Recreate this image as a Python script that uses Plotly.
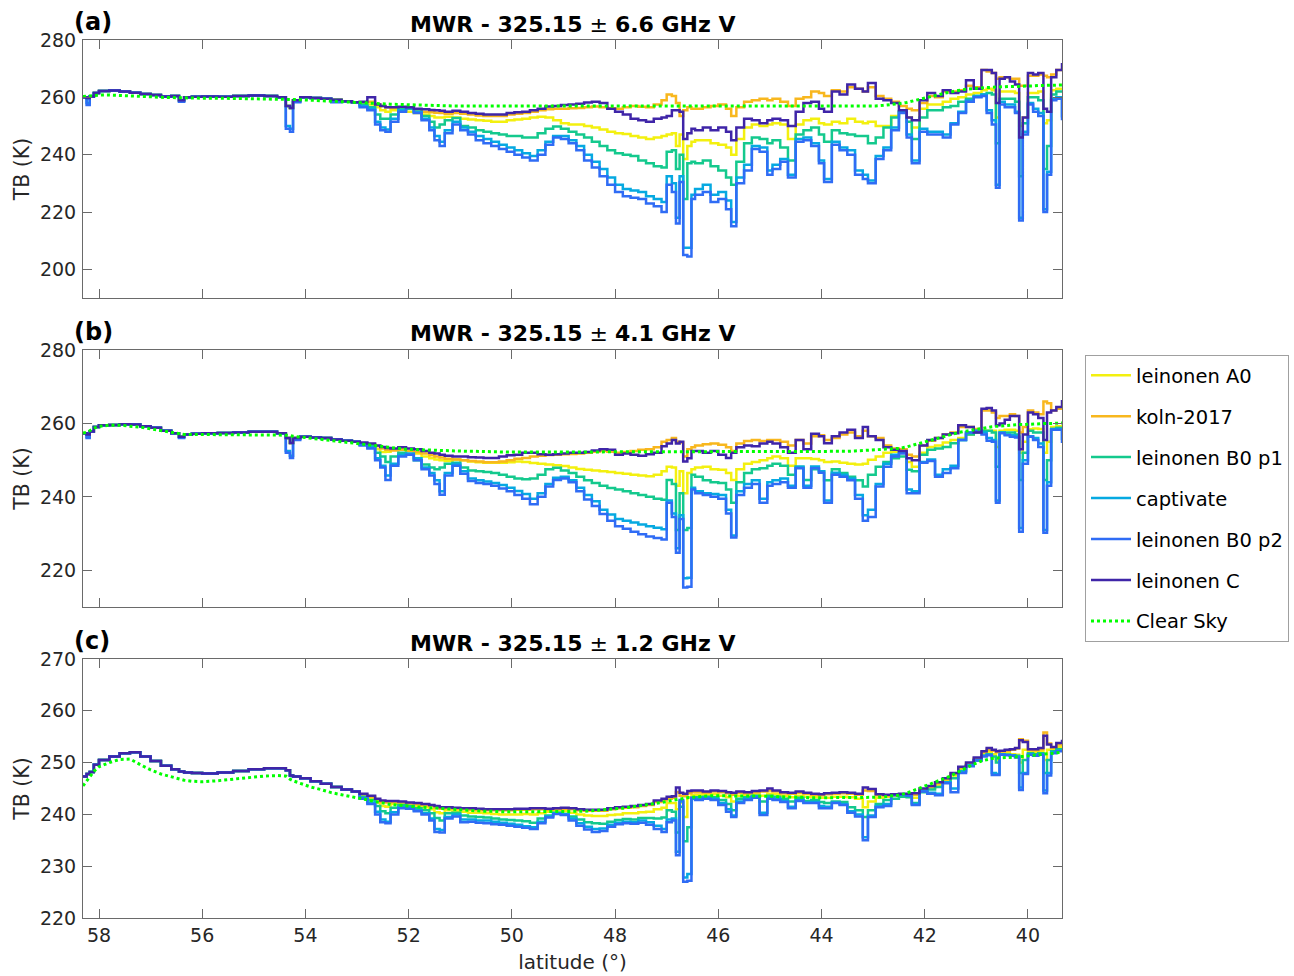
import plotly.graph_objects as go

# ---------------- data ----------------
lat = [
    58.31, 58.24, 58.18, 58.10, 58.00, 57.80, 57.60, 57.40, 57.20, 57.00,
    56.80, 56.60, 56.45, 56.35, 56.20, 56.00, 55.70, 55.40, 55.10, 54.80,
    54.55, 54.38, 54.30, 54.24, 54.10, 53.90, 53.70, 53.50, 53.30, 53.10,
    52.95, 52.80, 52.65, 52.55, 52.45, 52.35, 52.20, 52.05, 51.90, 51.75,
    51.60, 51.50, 51.40, 51.30, 51.15, 51.00, 50.85, 50.70, 50.55, 50.40,
    50.25, 50.10, 49.95, 49.80, 49.65, 49.50, 49.35, 49.20, 49.05, 48.90,
    48.75, 48.60, 48.45, 48.30, 48.15, 48.00, 47.85, 47.70, 47.55, 47.40,
    47.25, 47.10, 47.00, 46.90, 46.82, 46.75, 46.68, 46.60, 46.52, 46.45,
    46.30, 46.15, 46.00, 45.85, 45.75, 45.65, 45.50, 45.35, 45.20, 45.05,
    44.95, 44.80, 44.65, 44.50, 44.35, 44.20, 44.05, 43.95, 43.80, 43.65,
    43.50, 43.35, 43.20, 43.10, 42.95, 42.80, 42.65, 42.50, 42.35, 42.25,
    42.10, 41.95, 41.80, 41.65, 41.50, 41.35, 41.20, 41.05, 40.90, 40.80,
    40.70, 40.62, 40.55, 40.45, 40.35, 40.25, 40.17, 40.10, 40.00, 39.90,
    39.80, 39.70, 39.63, 39.55, 39.45, 39.34]

series_names = ["leinonen A0", "koln-2017", "leinonen B0 p1", "captivate",
                "leinonen B0 p2", "leinonen C", "Clear Sky"]

# ---- panel (a): 325.15 +- 6.6 GHz ----
a_north_top = [
    260.0, 259.8, 260.3, 261.5, 262.2, 262.4, 262.0, 261.6, 261.2, 260.8,
    260.3, 260.5, 259.0, 260.0, 260.2, 260.3, 260.2, 260.5, 260.6, 260.5,
    260.0, 257.0, 256.3, 259.0, 260.0, 259.8, 259.5, 259.2, 258.6, 258.3]
a_north_cap = [
    260.0, 258.0, 260.3, 261.5, 262.2, 262.4, 262.0, 261.6, 261.2, 260.8,
    260.3, 260.5, 258.7, 260.0, 260.2, 260.3, 260.2, 260.5, 260.6, 260.5,
    260.0, 250.0, 249.0, 258.5, 260.0, 259.8, 259.5, 258.5, 258.6, 258.3]
a_north_p2 = [
    260.0, 257.3, 260.3, 261.5, 262.2, 262.4, 262.0, 261.6, 261.2, 260.8,
    260.3, 260.5, 258.5, 260.0, 260.2, 260.3, 260.2, 260.5, 260.6, 260.5,
    260.0, 249.0, 248.0, 258.3, 260.0, 259.8, 259.5, 258.3, 258.6, 258.3]
a_A0_south = [
    258.0, 257.5, 256.5, 255.5, 255.0, 255.5, 255.5, 255.0, 254.5, 254.0,
    253.5, 253.0, 253.0, 253.2, 253.0, 252.5, 252.3, 252.0, 251.8, 251.5,
    251.5, 252.0, 252.3, 252.5, 253.0, 253.2, 253.0, 252.0, 251.0, 250.5,
    250.5, 250.0, 249.5, 248.8, 248.0, 247.5, 247.2, 246.5, 246.0, 245.5,
    246.0, 246.5, 247.0, 247.5, 243.0, 247.0, 238.5, 243.0, 244.5, 245.0,
    245.0, 244.0, 243.5, 242.5, 240.0, 245.5, 249.5, 250.5, 250.0, 250.5,
    251.0, 250.5, 245.5, 250.5, 252.0, 252.5, 251.0, 250.5, 251.5, 251.0,
    252.5, 251.5, 251.0, 251.5, 250.0, 250.0, 253.5, 255.0, 253.0, 249.5,
    256.0, 257.5, 257.5, 258.5, 259.5, 260.0, 261.0, 261.5, 262.5, 263.0,
    262.5, 253.0, 262.0, 262.0, 262.0, 261.5, 250.0, 253.0, 261.5, 261.5,
    262.0, 251.0, 252.0, 262.5, 263.0, 263.0]
a_koln_south = [
    258.0, 258.5, 257.5, 257.0, 256.5, 256.3, 256.5, 256.0, 255.5, 255.0,
    254.8, 254.6, 254.5, 254.3, 254.5, 254.3, 254.0, 253.7, 253.5, 253.5,
    253.5, 254.0, 254.3, 254.5, 255.0, 255.5, 255.8, 256.0, 256.0, 256.2,
    256.3, 256.5, 256.8, 256.5, 256.2, 256.0, 256.5, 257.0, 256.7, 256.5,
    257.5, 259.0, 261.0, 260.5, 258.0, 253.5, 255.5, 256.5, 256.0, 256.0,
    256.5, 257.0, 257.5, 256.0, 253.5, 256.5, 258.5, 259.0, 259.5, 259.0,
    259.5, 258.5, 257.0, 259.5, 260.0, 262.0, 261.5, 260.5, 262.5, 262.0,
    263.5, 263.0, 262.0, 263.5, 260.5, 259.5, 258.5, 257.0, 256.0, 255.5,
    258.0, 260.5, 260.0, 262.0, 262.0, 262.5, 264.0, 263.5, 269.5, 269.0,
    268.5, 266.5, 267.0, 267.0, 266.5, 266.5, 264.0, 264.0, 267.5, 267.5,
    268.0, 267.5, 267.0, 268.0, 269.5, 270.0]
a_B0p1_south = [
    257.5, 256.5, 254.0, 252.5, 252.5, 254.0, 256.0, 256.0, 255.0, 253.5,
    251.5, 249.5, 250.5, 252.0, 252.8, 250.0, 249.5, 248.5, 248.0, 247.5,
    247.0, 246.5, 246.5, 246.0, 246.0, 247.5, 249.0, 249.8, 249.0, 248.0,
    247.0, 246.0, 244.5, 243.0, 241.5, 240.5, 240.0, 239.5, 238.0, 237.0,
    236.0, 235.5, 241.0, 241.5, 235.0, 240.0, 224.5, 237.0, 237.5, 237.0,
    238.0, 236.0, 234.5, 232.0, 229.5, 237.5, 244.0, 246.0, 245.5, 244.0,
    245.0, 242.5, 238.0, 247.0, 248.5, 249.5, 247.0, 244.5, 248.5, 247.5,
    247.0, 246.5, 246.5, 244.0, 246.0, 249.5, 253.0, 255.0, 251.5, 245.5,
    253.0, 255.5, 255.5, 256.5, 257.0, 258.5, 259.5, 260.5, 261.0, 261.5,
    261.0, 244.0, 259.5, 259.5, 259.5, 258.5, 232.5, 251.0, 260.0, 260.0,
    259.0, 235.0, 243.0, 261.0, 262.0, 262.5]
a_capt_south = [
    257.0, 256.0, 251.5, 249.5, 248.8, 252.5, 255.5, 256.5, 255.0, 252.5,
    249.5, 246.5, 244.5, 248.5, 251.5, 249.5, 248.0, 246.5, 245.5, 244.5,
    243.5, 242.5, 241.5, 240.5, 239.5, 241.5, 244.5, 246.5, 246.5, 245.0,
    243.0, 240.0, 237.5, 235.0, 232.0, 229.5, 228.0, 227.5, 227.0, 225.5,
    224.5, 223.5, 232.5, 230.0, 218.0, 232.5, 207.5, 207.5, 226.0, 228.0,
    229.5, 226.0, 227.0, 224.0, 216.5, 232.0, 236.5, 243.0, 242.5, 234.5,
    236.5, 238.5, 233.0, 245.5, 246.0, 244.0, 238.0, 231.5, 244.5, 242.5,
    241.5, 234.5, 233.0, 231.0, 239.5, 242.5, 249.5, 255.0, 247.0, 238.0,
    249.0, 248.0, 248.0, 247.0, 251.0, 255.0, 259.0, 260.5, 261.0, 255.5,
    252.0, 229.5, 258.5, 257.5, 257.5, 255.0, 218.0, 248.0, 258.0, 256.0,
    254.5, 221.0, 234.0, 259.5, 260.0, 253.0]
a_B0p2_south = [
    256.5, 255.5, 250.5, 248.5, 248.0, 251.5, 255.0, 256.5, 254.5, 252.0,
    248.5, 245.0, 243.0, 247.5, 250.5, 248.5, 247.0, 245.0, 244.0, 243.0,
    242.0, 241.0, 240.0, 239.0, 238.0, 240.0, 243.5, 246.0, 245.5, 244.0,
    241.5, 238.0, 235.5, 232.5, 229.5, 227.0, 225.5, 225.0, 224.5, 223.0,
    222.0, 220.0, 229.5, 227.0, 216.0, 230.5, 205.0, 204.5, 224.5, 226.0,
    227.0, 223.5, 224.5, 221.0, 215.0, 230.0, 234.5, 242.0, 241.0, 233.0,
    235.0, 237.5, 232.0, 244.5, 245.0, 243.0, 237.0, 230.5, 243.5, 241.5,
    240.0, 233.0, 231.5, 230.0, 238.5, 241.5, 248.5, 254.5, 246.0, 237.0,
    248.0, 247.0, 247.0, 246.0, 250.5, 254.5, 258.5, 260.0, 260.5, 254.5,
    250.5, 228.5, 257.5, 256.5, 256.5, 254.5, 217.0, 247.0, 257.5, 255.0,
    253.5, 220.0, 233.0, 259.0, 259.5, 252.0]
a_C_south = [
    258.5, 260.0, 257.5, 257.0, 256.5, 256.5, 256.7, 256.5, 256.0, 255.8,
    255.6, 255.5, 255.3, 255.0, 255.3, 255.0, 254.5, 254.3, 254.0, 254.0,
    254.0, 254.5, 254.8, 255.0, 255.5, 256.0, 256.8, 257.0, 257.3, 257.5,
    257.8, 258.2, 258.5, 258.0, 256.0, 255.0, 254.0, 252.5, 252.0, 251.5,
    252.5, 253.0, 253.5, 255.5, 255.5, 255.0, 245.5, 247.5, 249.0, 248.5,
    249.5, 248.5, 249.5, 248.0, 245.0, 249.5, 252.5, 252.0, 251.0, 252.0,
    252.5, 252.0, 250.0, 255.0, 258.0, 258.5, 256.0, 255.0, 262.0, 261.0,
    264.5, 263.0, 262.0, 265.0, 259.5, 259.0, 258.0, 255.5, 253.0, 252.0,
    259.0, 261.5, 260.5, 262.5, 261.5, 262.0, 266.0, 263.0, 269.5, 269.5,
    268.5, 258.0, 266.5, 267.0, 265.5, 264.5, 246.0, 253.0, 268.5, 268.0,
    268.5, 256.0, 255.0, 267.0, 269.5, 272.0]
a_clear = [
    260.3, 260.4, 260.5, 260.6, 260.8, 260.8, 260.7, 260.6, 260.4, 260.2,
    260.0, 259.9, 259.8, 259.8, 259.8, 259.7, 259.7, 259.6, 259.6, 259.5,
    259.4, 259.4, 259.4, 259.3, 259.2, 259.0, 258.9, 258.7, 258.5, 258.3,
    258.1, 258.0, 257.9, 257.8, 257.7, 257.6, 257.5, 257.4, 257.3, 257.2,
    257.2, 257.1, 257.1, 257.1, 257.0, 257.0, 257.0, 257.0, 257.0, 257.0,
    257.0, 257.0, 257.0, 257.0, 257.0, 257.0, 257.0, 257.0, 257.0, 257.0,
    257.0, 257.0, 257.0, 257.0, 257.0, 257.0, 257.0, 257.0, 257.0, 257.0,
    257.0, 257.0, 257.0, 257.0, 257.0, 257.0, 257.0, 257.0, 257.0, 257.0,
    257.0, 257.0, 257.0, 257.0, 257.0, 257.0, 257.0, 257.0, 257.0, 257.0,
    257.0, 257.0, 257.0, 257.0, 257.0, 257.0, 257.0, 257.0, 257.0, 257.0,
    257.0, 257.0, 256.9, 256.9, 257.0, 257.2, 257.4, 257.8, 258.2, 258.6,
    259.2, 259.9, 260.6, 261.3, 261.9, 262.4, 262.8, 263.1, 263.3, 263.4,
    263.5, 263.6, 263.6, 263.7, 263.8, 263.8, 263.9, 263.9, 264.0, 264.0,
    264.1, 264.1, 264.2, 264.2, 264.3, 264.3]

# ---- panel (b): 325.15 +- 4.1 GHz ----
b_north_top = [
    257.3, 257.0, 257.8, 259.0, 259.5, 259.6, 259.8, 259.7, 259.2, 258.8,
    258.0, 257.3, 256.4, 257.0, 257.2, 257.3, 257.4, 257.5, 257.7, 257.7,
    257.3, 256.0, 254.7, 256.0, 256.4, 256.2, 256.0, 255.6, 255.3, 255.0]
b_north_cap = [
    257.3, 256.3, 257.8, 259.0, 259.5, 259.6, 259.8, 259.7, 259.2, 258.8,
    258.0, 257.3, 256.2, 257.0, 257.2, 257.3, 257.4, 257.5, 257.7, 257.7,
    257.3, 252.5, 251.2, 255.8, 256.4, 256.2, 256.0, 255.6, 255.3, 255.0]
b_north_p2 = [
    257.3, 256.0, 257.8, 259.0, 259.5, 259.6, 259.8, 259.7, 259.2, 258.8,
    258.0, 257.3, 256.0, 257.0, 257.2, 257.3, 257.4, 257.5, 257.7, 257.7,
    257.3, 252.0, 250.6, 255.5, 256.4, 256.2, 256.0, 255.6, 255.3, 255.0]
b_A0_south = [
    254.5, 254.0, 253.0, 252.2, 252.3, 252.8, 253.0, 252.5, 251.8, 251.0,
    250.5, 250.2, 250.0, 249.8, 250.2, 250.0, 249.6, 249.4, 249.3, 249.3,
    249.3, 249.4, 249.6, 249.5, 249.2, 249.0, 248.8, 248.6, 248.4, 248.0,
    247.6, 247.4, 247.2, 247.0, 246.8, 246.5, 246.3, 246.0, 245.8, 245.6,
    246.0, 247.0, 248.2, 248.0, 243.0, 247.0, 241.0, 246.5, 247.5, 248.0,
    248.2, 247.5, 247.4, 246.5, 244.6, 247.5, 249.0, 249.5, 250.0, 250.5,
    251.0, 250.5, 248.5, 250.5, 250.5, 250.3, 250.0, 249.5, 249.6, 249.3,
    249.0, 248.8, 249.0, 250.1, 251.0, 252.0, 252.3, 252.3, 249.5, 248.2,
    252.0, 253.6, 254.0, 254.8, 255.5, 256.0, 257.0, 257.6, 258.0, 258.0,
    258.0, 253.6, 258.0, 258.3, 258.3, 258.0, 252.0, 255.0, 258.4, 258.6,
    258.5, 252.0, 255.0, 259.0, 259.2, 259.5]
b_koln_south = [
    254.5, 254.3, 253.8, 253.2, 252.8, 252.6, 252.8, 252.5, 252.2, 251.8,
    251.3, 251.0, 250.7, 250.4, 250.2, 250.0, 249.8, 249.6, 249.4, 249.4,
    249.6, 250.0, 250.4, 250.6, 251.0, 251.2, 251.4, 251.5, 251.6, 251.7,
    251.8, 252.0, 252.3, 252.5, 252.3, 252.0, 252.2, 252.5, 252.8, 253.0,
    253.5, 255.0, 255.5, 256.0, 255.0, 254.8, 251.0, 253.0, 253.5, 254.0,
    254.3, 254.5, 254.2, 253.5, 252.5, 254.5, 255.2, 255.5, 255.2, 255.5,
    255.5, 255.0, 254.0, 255.5, 254.5, 256.5, 256.8, 255.5, 256.0, 257.0,
    257.5, 256.5, 258.0, 256.5, 256.0, 254.0, 253.2, 253.0, 251.5, 251.0,
    254.0, 255.3, 256.0, 257.0, 257.5, 259.0, 259.0, 258.5, 263.5, 263.5,
    263.0, 261.5, 262.0, 262.0, 262.5, 262.0, 257.5, 259.0, 263.5, 263.0,
    262.5, 266.0, 265.5, 263.5, 264.0, 264.5]
b_B0p1_south = [
    254.5, 254.0, 252.0, 251.0, 249.5, 251.0, 252.0, 251.5, 250.0, 248.8,
    248.0, 247.5, 248.0, 249.0, 249.3, 248.0, 247.2, 247.0, 246.8, 246.5,
    246.0, 245.5, 245.0, 244.8, 245.0, 246.0, 247.5, 247.9, 247.2, 246.5,
    245.5, 244.5, 243.8, 243.0, 242.4, 242.0, 241.5, 241.0, 240.5, 240.0,
    239.5, 239.2, 244.6, 243.5, 231.0, 241.0, 231.0, 231.5, 246.0, 245.5,
    244.5, 244.0, 243.8, 242.0, 238.4, 244.0, 246.5, 247.5, 247.8, 248.5,
    249.0, 248.5, 246.0, 248.2, 244.6, 247.5, 247.0, 244.5, 247.5, 246.5,
    245.5, 244.5, 242.8, 246.0, 248.2, 249.5, 250.5, 251.0, 247.4, 247.0,
    251.5, 252.8, 253.2, 253.6, 254.6, 255.5, 257.0, 257.5, 258.0, 258.0,
    257.5, 248.2, 257.5, 257.5, 257.5, 257.0, 244.6, 252.0, 258.0, 257.5,
    257.5, 244.6, 250.0, 258.5, 258.8, 258.5]
b_capt_south = [
    254.2, 253.5, 250.5, 248.5, 245.8, 249.0, 251.5, 251.8, 250.5, 248.0,
    246.5, 244.5, 241.5, 246.5, 249.0, 247.0, 245.0, 244.5, 244.2, 243.8,
    243.2, 242.5, 241.6, 240.8, 239.5, 241.0, 243.5, 245.2, 245.5, 244.5,
    242.5, 240.5, 238.8, 236.5, 235.2, 234.0, 233.5, 233.0, 232.5, 232.0,
    231.6, 231.2, 239.0, 235.5, 226.0, 235.0, 217.8, 218.0, 242.5, 241.5,
    241.0, 240.8, 240.5, 236.5, 229.5, 241.5, 243.5, 244.5, 239.5, 244.0,
    244.5, 245.0, 243.0, 248.2, 243.0, 248.3, 247.0, 239.0, 246.6, 246.0,
    245.0, 240.5, 235.0, 236.5, 243.5, 249.0, 251.5, 252.0, 242.0, 241.5,
    249.5, 250.2, 246.0, 247.5, 248.5, 255.5, 257.5, 258.0, 257.5, 256.0,
    255.5, 239.0, 257.5, 257.0, 256.8, 256.5, 231.5, 250.0, 256.5, 256.0,
    254.5, 231.0, 244.0, 258.5, 258.5, 255.5]
b_B0p2_south = [
    254.0, 253.2, 250.0, 248.0, 244.6, 248.5, 251.0, 251.5, 250.0, 247.5,
    245.8, 243.5, 240.6, 245.8, 248.5, 246.3, 244.3, 243.8, 243.5, 243.0,
    242.3, 241.5, 240.5, 239.5, 238.0, 240.0, 242.8, 244.6, 245.0, 244.0,
    241.5, 239.3, 237.5, 235.3, 233.5, 232.0, 231.3, 230.5, 229.8, 229.2,
    228.8, 228.4, 238.4, 234.5, 224.8, 234.0, 215.3, 215.5, 242.0, 241.0,
    240.5, 240.0, 239.5, 235.5, 228.9, 240.5, 242.5, 243.5, 238.4, 243.0,
    243.5, 244.0, 242.5, 247.8, 242.5, 247.8, 246.6, 238.4, 246.0, 245.5,
    244.5, 239.5, 233.5, 234.5, 242.8, 248.2, 251.0, 251.8, 241.0, 241.0,
    249.3, 249.8, 245.5, 246.5, 247.8, 255.5, 257.5, 258.0, 257.0, 255.3,
    255.0, 238.4, 257.3, 256.8, 256.4, 256.2, 230.5, 249.0, 256.4, 255.5,
    253.6, 230.2, 243.0, 258.3, 258.3, 254.7]
b_C_south = [
    254.8, 254.5, 254.0, 253.6, 253.3, 253.2, 253.5, 253.2, 253.0, 252.5,
    252.0, 251.8, 251.5, 251.2, 251.0, 251.0, 250.8, 250.7, 250.6, 250.6,
    251.0, 251.3, 251.5, 252.0, 252.0, 251.6, 251.5, 251.6, 251.8, 252.0,
    252.0, 252.2, 252.6, 253.0, 252.8, 251.5, 251.8, 251.5, 251.2, 251.6,
    252.0, 253.8, 254.5, 255.5, 254.5, 255.0, 249.6, 250.5, 252.5, 252.5,
    252.0, 252.5, 251.5, 250.6, 252.0, 253.5, 254.0, 253.8, 254.5, 255.0,
    254.5, 253.5, 252.0, 255.5, 253.0, 257.2, 256.5, 254.6, 256.5, 257.5,
    258.3, 256.0, 259.0, 256.5, 255.5, 253.5, 252.8, 252.5, 250.5, 250.0,
    254.0, 255.5, 256.0, 257.0, 257.3, 259.5, 259.0, 257.5, 264.0, 264.2,
    263.5, 259.5, 260.0, 261.0, 262.0, 262.0, 253.0, 257.0, 263.0, 262.5,
    261.5, 255.5, 263.0, 263.5, 264.5, 266.4]
b_clear = [
    257.4, 257.6, 258.0, 258.7, 259.2, 259.5, 259.5, 259.3, 259.0, 258.5,
    258.0, 257.5, 257.2, 257.0, 257.0, 257.0, 257.0, 257.0, 257.0, 257.0,
    256.9, 256.8, 256.7, 256.5, 256.3, 256.0, 255.7, 255.4, 255.1, 254.8,
    254.6, 254.3, 254.0, 253.8, 253.6, 253.4, 253.2, 253.0, 252.9, 252.8,
    252.7, 252.7, 252.6, 252.6, 252.5, 252.5, 252.4, 252.4, 252.3, 252.3,
    252.2, 252.2, 252.2, 252.2, 252.2, 252.2, 252.2, 252.2, 252.2, 252.2,
    252.2, 252.2, 252.2, 252.2, 252.2, 252.2, 252.2, 252.2, 252.2, 252.2,
    252.2, 252.2, 252.2, 252.2, 252.2, 252.2, 252.2, 252.2, 252.2, 252.2,
    252.3, 252.3, 252.3, 252.3, 252.3, 252.3, 252.3, 252.3, 252.3, 252.3,
    252.3, 252.3, 252.3, 252.3, 252.3, 252.3, 252.3, 252.3, 252.3, 252.3,
    252.4, 252.5, 252.6, 252.7, 252.8, 252.8, 252.9, 253.2, 253.6, 254.0,
    254.6, 255.3, 255.9, 256.5, 257.0, 257.5, 257.9, 258.3, 258.7, 258.9,
    259.1, 259.2, 259.3, 259.4, 259.5, 259.6, 259.7, 259.7, 259.8, 259.8,
    259.9, 259.9, 260.0, 260.0, 260.0, 260.1]

# ---- panel (c): 325.15 +- 1.2 GHz ----
c_north_top = [
    247.3, 247.8, 248.2, 249.6, 250.5, 251.2, 251.8, 252.0, 251.2, 250.3,
    249.4, 248.7, 248.3, 248.1, 248.0, 247.9, 248.1, 248.4, 248.7, 248.9,
    248.9, 248.5, 247.5, 247.3, 247.0, 246.4, 245.9, 245.3, 244.8, 244.4]
c_A0_south = [
    243.6, 243.2, 242.3, 241.6, 241.5, 242.0, 242.1, 241.9, 241.6, 241.4,
    241.0, 240.4, 240.2, 240.8, 240.7, 240.5, 240.3, 240.3, 240.2, 240.1,
    240.0, 240.0, 240.0, 240.1, 240.0, 240.2, 240.5, 240.6, 240.6, 240.3,
    240.0, 239.8, 239.7, 239.7, 239.9, 240.0, 240.2, 240.2, 240.4, 240.5,
    241.0, 241.3, 242.2, 242.2, 241.0, 242.3, 239.5, 243.3, 243.7, 243.8,
    243.8, 243.9, 243.6, 243.3, 242.5, 243.6, 243.8, 244.0, 243.6, 244.0,
    243.9, 243.6, 243.3, 243.6, 243.4, 243.3, 243.2, 243.2, 243.4, 243.4,
    243.3, 243.0, 241.4, 242.5, 243.2, 243.4, 243.6, 243.7, 243.6, 243.2,
    244.6, 245.1, 245.7, 246.5, 247.5, 248.8, 249.6, 250.6, 251.6, 252.0,
    251.6, 250.5, 251.8, 251.8, 251.6, 251.5, 250.0, 252.5, 252.2, 252.1,
    252.2, 250.5, 252.5, 252.5, 253.0, 253.4]
c_koln_south = [
    243.8, 243.4, 242.8, 242.4, 242.3, 242.4, 242.3, 242.1, 242.0, 241.8,
    241.6, 241.3, 241.1, 241.2, 241.1, 241.0, 240.9, 240.8, 240.8, 240.8,
    240.8, 240.8, 240.9, 240.9, 241.0, 241.0, 240.9, 241.0, 241.1, 241.0,
    240.8, 240.7, 240.7, 240.7, 241.0, 241.2, 241.3, 241.4, 241.6, 241.8,
    242.4, 242.7, 243.0, 243.2, 244.3, 243.6, 243.5, 244.1, 244.3, 244.3,
    244.2, 244.4, 244.3, 244.1, 243.8, 244.2, 244.1, 244.3, 244.4, 244.6,
    244.4, 244.1, 244.0, 244.2, 244.0, 243.8, 243.7, 243.9, 244.0, 244.1,
    244.0, 243.8, 244.6, 244.5, 243.7, 243.6, 243.7, 243.8, 243.8, 243.8,
    244.8, 245.3, 246.0, 246.8, 247.8, 249.0, 249.8, 250.8, 252.0, 252.5,
    252.3, 252.0, 252.2, 252.3, 252.5, 252.7, 254.5, 254.2, 252.5, 252.4,
    252.6, 255.8, 253.7, 252.8, 253.5, 254.0]
c_B0p1_south = [
    243.4, 242.8, 241.6, 240.6, 240.2, 241.3, 241.8, 241.6, 241.2, 240.8,
    240.2, 239.3, 238.8, 240.2, 240.3, 239.8, 239.6, 239.5, 239.4, 239.2,
    239.0, 238.9, 238.8, 238.7, 238.4, 239.2, 239.8, 240.2, 240.0, 239.6,
    239.0, 238.5, 238.3, 238.2, 238.6, 238.9, 239.1, 239.0, 239.3, 239.3,
    239.2, 239.4, 240.8, 240.5, 236.5, 241.5, 234.8, 237.5, 243.2, 243.3,
    243.4, 243.3, 242.8, 242.0, 240.8, 243.0, 243.3, 243.6, 242.5, 243.6,
    243.4, 243.0, 242.5, 243.2, 242.6, 242.8, 242.4, 242.2, 242.5, 242.4,
    241.4, 240.8, 239.5, 240.8, 242.0, 242.8, 243.0, 243.4, 243.3, 242.2,
    244.3, 244.8, 245.3, 246.2, 247.0, 248.4, 249.4, 250.4, 251.3, 251.6,
    251.2, 250.0, 251.5, 251.5, 251.4, 251.3, 248.0, 250.5, 251.8, 251.6,
    251.8, 248.0, 250.5, 252.2, 252.6, 252.6]
c_capt_south = [
    243.2, 242.3, 240.5, 239.0, 238.6, 240.4, 241.4, 241.3, 240.8, 240.2,
    239.2, 237.2, 237.0, 239.5, 240.0, 239.0, 239.0, 238.8, 238.8, 238.6,
    238.4, 238.2, 238.0, 237.7, 237.5, 238.6, 239.6, 240.3, 240.1, 239.2,
    238.3, 237.6, 237.2, 237.3, 238.0, 238.4, 238.6, 238.5, 238.8, 238.5,
    237.8, 237.2, 239.0, 239.2, 232.8, 242.5, 227.8, 228.5, 243.0, 243.0,
    243.2, 243.0, 242.2, 241.0, 239.8, 242.5, 243.0, 243.5, 240.3, 243.2,
    243.0, 242.6, 241.5, 242.8, 242.3, 242.4, 241.6, 241.5, 242.3, 242.0,
    240.6, 240.0, 235.6, 239.8, 241.6, 242.0, 243.8, 243.8, 243.6, 242.0,
    244.5, 244.2, 244.0, 246.2, 245.0, 248.3, 249.5, 250.5, 251.3, 251.5,
    248.0, 247.8, 251.6, 251.5, 251.4, 251.2, 245.2, 248.0, 251.6, 251.4,
    251.6, 244.6, 248.0, 252.0, 252.3, 252.2]
c_B0p2_south = [
    243.0, 242.0, 240.0, 238.5, 238.3, 240.0, 241.2, 241.1, 240.6, 240.0,
    238.8, 236.6, 236.5, 239.2, 239.6, 238.5, 238.6, 238.4, 238.3, 238.1,
    238.0, 237.8, 237.6, 237.4, 237.2, 238.3, 239.4, 240.1, 239.9, 238.8,
    237.8, 237.1, 236.6, 236.8, 237.6, 238.1, 238.3, 238.2, 238.4, 238.0,
    237.2, 236.6, 238.5, 238.8, 232.1, 242.8, 227.0, 227.2, 243.2, 242.8,
    243.0, 242.8, 241.8, 240.5, 239.5, 242.2, 242.8, 243.2, 239.9, 243.0,
    242.8, 242.4, 241.2, 242.6, 242.2, 242.2, 241.2, 241.2, 242.2, 241.8,
    240.3, 239.6, 235.0, 239.5, 241.4, 241.6, 243.7, 243.8, 243.6, 241.8,
    244.4, 244.0, 243.7, 246.0, 244.3, 248.0, 249.3, 250.4, 251.2, 251.4,
    247.6, 247.6, 251.5, 251.4, 251.3, 251.0, 244.7, 247.8, 251.5, 251.3,
    251.5, 244.1, 247.5, 251.8, 252.2, 252.2]
c_C_south = [
    244.0, 243.6, 243.0, 242.7, 242.6, 242.6, 242.5, 242.3, 242.2, 242.0,
    241.8, 241.6, 241.4, 241.4, 241.3, 241.2, 241.2, 241.1, 241.0, 241.0,
    241.0, 241.0, 241.1, 241.1, 241.2, 241.2, 241.1, 241.2, 241.3, 241.2,
    241.0, 240.9, 240.9, 240.9, 241.2, 241.4, 241.5, 241.6, 241.8, 242.0,
    242.7, 243.0, 243.4, 243.5, 245.2, 244.2, 244.0, 244.5, 244.6, 244.6,
    244.4, 244.6, 244.5, 244.3, 244.2, 244.4, 244.3, 244.5, 244.6, 245.0,
    244.6, 244.3, 244.2, 244.4, 244.2, 244.0, 243.9, 244.1, 244.2, 244.3,
    244.2, 244.0, 245.2, 244.9, 243.9, 243.8, 243.9, 244.0, 244.0, 244.1,
    245.0, 245.5, 246.2, 247.0, 248.0, 249.2, 250.0, 251.0, 252.2, 252.8,
    252.5, 252.2, 252.3, 252.5, 252.6, 252.8, 254.3, 254.0, 252.6, 252.6,
    252.8, 255.2, 253.5, 253.0, 253.8, 254.4]
c_clear = [
    245.5, 246.5, 247.3, 248.3, 249.2, 250.0, 250.6, 250.7, 249.6, 248.6,
    247.8, 247.2, 246.8, 246.6, 246.4, 246.3, 246.5, 246.8, 247.1, 247.4,
    247.5, 247.4, 246.8, 246.5, 246.0, 245.3, 244.8, 244.2, 243.8, 243.4,
    243.0, 242.7, 242.4, 242.2, 242.0, 241.9, 241.8, 241.6, 241.5, 241.4,
    241.3, 241.2, 241.1, 241.0, 240.9, 240.8, 240.7, 240.7, 240.6, 240.6,
    240.5, 240.5, 240.5, 240.5, 240.5, 240.5, 240.5, 240.5, 240.5, 240.5,
    240.6, 240.6, 240.7, 240.8, 240.9, 241.0, 241.2, 241.4, 241.6, 241.8,
    242.0, 242.3, 242.5, 242.7, 242.9, 243.0, 243.1, 243.2, 243.3, 243.4,
    243.5, 243.6, 243.6, 243.6, 243.6, 243.6, 243.6, 243.6, 243.5, 243.5,
    243.5, 243.4, 243.4, 243.3, 243.3, 243.2, 243.2, 243.2, 243.2, 243.2,
    243.2, 243.2, 243.2, 243.2, 243.3, 243.4, 243.5, 243.7, 244.1, 244.5,
    245.1, 245.7, 246.3, 246.9, 247.4, 248.2, 249.0, 249.7, 250.3, 250.6,
    250.8, 250.9, 250.9, 251.0, 251.0, 251.1, 251.1, 251.2, 251.3, 251.4,
    251.5, 251.6, 251.7, 251.8, 251.9, 252.0]

panels = {
    "a": [a_north_top + a_A0_south, a_north_top + a_koln_south,
          a_north_top + a_B0p1_south, a_north_cap + a_capt_south,
          a_north_p2 + a_B0p2_south, a_north_top + a_C_south, a_clear],
    "b": [b_north_top + b_A0_south, b_north_top + b_koln_south,
          b_north_top + b_B0p1_south, b_north_cap + b_capt_south,
          b_north_p2 + b_B0p2_south, b_north_top + b_C_south, b_clear],
    "c": [c_north_top + c_A0_south, c_north_top + c_koln_south,
          c_north_top + c_B0p1_south, c_north_top + c_capt_south,
          c_north_top + c_B0p2_south, c_north_top + c_C_south, c_clear],
}
titles = {"a": ("6.6", "(a)"), "b": ("4.1", "(b)"), "c": ("1.2", "(c)")}
y_ranges = {"a": [190, 280], "b": [210, 280], "c": [220, 270]}
y_ticks = {"a": [200, 220, 240, 260, 280], "b": [220, 240, 260, 280],
           "c": [220, 230, 240, 250, 260, 270]}
x_ticks = [58, 56, 54, 52, 50, 48, 46, 44, 42, 40]

for k, lst in panels.items():
    for s in lst:
        if len(s) != len(lat):
            raise ValueError(f"length mismatch in panel {k}: {len(s)} vs {len(lat)}")

# ---------------- styling ----------------
colors = ["#F3F00F", "#F8B71E", "#14C98D", "#06A9E1", "#2F6CF5", "#3F25A8", "#00FF00"]
W, H = 1294, 976
FONT = "DejaVu Sans"
AX = "#6a6a6a"
TXT = "#262626"

x_dom = [83 / W, 1062 / W]
y_doms = {"a": [1 - 298 / H, 1 - 40 / H],
          "b": [1 - 607 / H, 1 - 350 / H],
          "c": [1 - 918 / H, 1 - 659 / H]}
title_y = {"a": 24, "b": 334, "c": 643}

fig = go.Figure()
axis_ids = {"a": "", "b": "2", "c": "3"}
for k in ["a", "b", "c"]:
    sfx = axis_ids[k]
    for i, (name, vals) in enumerate(zip(series_names, panels[k])):
        clear = name == "Clear Sky"
        fig.add_trace(go.Scatter(
            x=lat, y=vals, name=name, mode="lines",
            line=dict(color=colors[i], width=3 if clear else 2.5,
                      dash="dot" if clear else "solid",
                      shape="linear" if clear else "hv"),
            xaxis="x" + sfx, yaxis="y" + sfx,
            legendgroup=name, showlegend=(k == "a"),
            hoverinfo="skip"))

layout = dict(
    width=W, height=H, margin=dict(l=0, r=0, t=0, b=0, autoexpand=False),
    paper_bgcolor="white", plot_bgcolor="white",
    font=dict(family=FONT, color=TXT, size=19),
    showlegend=True,
    legend=dict(x=1085 / W, y=1 - 355 / H, xanchor="left", yanchor="top",
                bordercolor="#a0a0a0", borderwidth=1, bgcolor="white",
                font=dict(family=FONT, size=19.5, color="#000000"),
                traceorder="grouped", tracegroupgap=12.6, itemwidth=40),
)
annotations = []
for k in ["a", "b", "c"]:
    sfx = axis_ids[k]
    xa = dict(domain=x_dom, range=[58.31, 39.34], anchor="y" + sfx,
              automargin=False,
              showline=True, linecolor=AX, linewidth=1, mirror="ticks",
              ticks="inside", ticklen=9, tickcolor=AX, tickwidth=1,
              tickvals=x_ticks, showgrid=False, zeroline=False,
              showticklabels=(k == "c"),
              tickfont=dict(family=FONT, size=19, color=TXT))
    if k == "c":
        xa["title"] = dict(text="latitude (°)", font=dict(family=FONT, size=20, color=TXT),
                           standoff=10)
    ya = dict(domain=y_doms[k], range=y_ranges[k], anchor="x" + sfx,
              automargin=False,
              showline=True, linecolor=AX, linewidth=1, mirror="ticks",
              ticks="inside", ticklen=9, tickcolor=AX, tickwidth=1,
              tickvals=y_ticks[k], showgrid=False, zeroline=False,
              ticklabelstandoff=2,
              tickfont=dict(family=FONT, size=19, color=TXT),
              title=dict(text="TB (K)", font=dict(family=FONT, size=20.5, color=TXT),
                         standoff=4))
    layout["xaxis" + sfx] = xa
    layout["yaxis" + sfx] = ya
    ghz, lab = titles[k]
    annotations.append(dict(
        x=572.5 / W, y=1 - title_y[k] / H, xref="paper", yref="paper",
        xanchor="center", yanchor="middle", showarrow=False,
        text=f"<b>MWR - 325.15</b> ± <b>{ghz} GHz V</b>",
        font=dict(family=FONT, size=22, color="#000000")))
    annotations.append(dict(
        x=72 / W, y=1 - (title_y[k] - 2) / H, xref="paper", yref="paper",
        xanchor="left", yanchor="middle", showarrow=False,
        text=f"<b>{lab}</b>",
        font=dict(family=FONT, size=24, color="#000000")))
layout["annotations"] = annotations
fig.update_layout(**layout)

fig.write_html("out.html")
